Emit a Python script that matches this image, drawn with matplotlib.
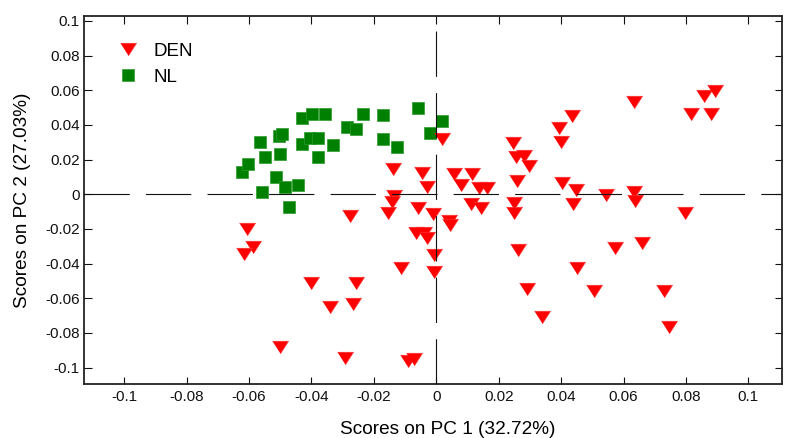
import matplotlib
matplotlib.use("Agg")
import matplotlib.pyplot as plt
from matplotlib.lines import Line2D

plt.rcParams['font.family'] = ['Liberation Sans', 'DejaVu Sans']

# ---- data ----
den_x = [0.0017, -0.0140, -0.0047, -0.0031, 0.0058, 0.0115, 0.0079, 0.0138, 0.0163,
         -0.0136, -0.0142, -0.0154, -0.0058, -0.0012, 0.0042, 0.0044, 0.0110, 0.0142,
         -0.0065, -0.0039, -0.0031, -0.0008, -0.0114, -0.0006, -0.0608, -0.0587, -0.0616,
         -0.0277, -0.0402, -0.0257, -0.0341, -0.0266, -0.0501, -0.0293, -0.0090, -0.0071,
         0.0247, 0.0254, 0.0282, 0.0298, 0.0258, 0.0394, 0.0401, 0.0436, 0.0404, 0.0449,
         0.0544, 0.0634, 0.0633, 0.0638, 0.0817, 0.0857, 0.0892, 0.0880, 0.0796, 0.0250,
         0.0250, 0.0439, 0.0263, 0.0573, 0.0658, 0.0452, 0.0292, 0.0506, 0.0728, 0.0340,
         0.0746]
den_y = [0.0317, 0.0144, 0.0124, 0.0043, 0.0114, 0.0118, 0.0053, 0.0034, 0.0036,
         -0.0010, -0.0045, -0.0110, -0.0077, -0.0116, -0.0152, -0.0178, -0.0059, -0.0081,
         -0.0226, -0.0226, -0.0250, -0.0351, -0.0423, -0.0449, -0.0202, -0.0306, -0.0347,
         -0.0123, -0.0514, -0.0514, -0.0652, -0.0633, -0.0880, -0.0947, -0.0960, -0.0949,
         0.0298, 0.0215, 0.0222, 0.0163, 0.0076, 0.0380, 0.0304, 0.0451, 0.0065, 0.0024,
         -0.0005, 0.0530, 0.0014, -0.0041, 0.0461, 0.0568, 0.0597, 0.0461, -0.0107, -0.0052,
         -0.0107, -0.0059, -0.0320, -0.0312, -0.0282, -0.0424, -0.0549, -0.0557, -0.0557, -0.0710,
         -0.0764]

nl_x = [-0.0623, -0.0604, -0.0565, -0.0549, -0.0560, -0.0514, -0.0485, -0.0501, -0.0504,
        -0.0496, -0.0472, -0.0444, -0.0431, -0.0431, -0.0399, -0.0405, -0.0378, -0.0380,
        -0.0358, -0.0332, -0.0286, -0.0257, -0.0236, -0.0170, -0.0171, -0.0127, -0.0058,
        -0.0021, 0.0019]
nl_y = [0.0126, 0.0174, 0.0299, 0.0215, 0.0011, 0.0099, 0.0040, 0.0230, 0.0336,
        0.0346, -0.0074, 0.0051, 0.0440, 0.0290, 0.0461, 0.0326, 0.0324, 0.0215,
        0.0461, 0.0284, 0.0388, 0.0374, 0.0461, 0.0455, 0.0317, 0.0272, 0.0496,
        0.0351, 0.0421]

series_labels = ["DEN", "NL"]
tick_vals = [-0.1, -0.08, -0.06, -0.04, -0.02, 0, 0.02, 0.04, 0.06, 0.08, 0.1]
tick_labels = ["-0.1", "-0.08", "-0.06", "-0.04", "-0.02", "0", "0.02", "0.04", "0.06", "0.08", "0.1"]
x_label = "Scores on PC 1 (32.72%)"
y_label = "Scores on PC 2 (27.03%)"

# ---- figure ----
fig = plt.figure(figsize=(7.85, 4.38), dpi=100)
ax = fig.add_axes([0.107, 0.1233, 0.8889, 0.8409])

tri = [(-1, 0.78), (1, 0.78), (0, -0.78)]

ax.plot(nl_x, nl_y, linestyle='none', marker='s', markersize=8.2,
        markerfacecolor='#008000', markeredgecolor='#2a9a2a', markeredgewidth=0.5, zorder=2)
ax.plot(den_x, den_y, linestyle='none', marker=tri, markersize=11.5,
        markerfacecolor='#ff0000', markeredgecolor='#ff3333', markeredgewidth=0.5, zorder=3)

ax.axhline(0, color='#111111', lw=0.8, dashes=(32.6 / 0.8, 11.7 / 0.8), zorder=4)
ax.axvline(0, color='#111111', lw=0.8, dashes=(32.6 / 0.8, 11.7 / 0.8), zorder=4)

ax.set_xlim(-0.1129, 0.1107)
ax.set_ylim(-0.1095, 0.1030)
ax.set_xticks(tick_vals)
ax.set_xticklabels(tick_labels)
ax.set_yticks(tick_vals)
ax.set_yticklabels(tick_labels)

ax.tick_params(axis='both', direction='in', length=5.4, width=0.8, labelsize=11,
               top=True, right=True, colors='#111111')
ax.tick_params(axis='x', pad=4.5)
ax.tick_params(axis='y', pad=3)
for s in ax.spines.values():
    s.set_linewidth(1.3)
    s.set_color('#222222')

ax.set_xlabel(x_label, fontsize=13.7)
ax.set_ylabel(y_label, fontsize=13.7)
ax.xaxis.set_label_coords(0.5217, -0.1005)
ax.yaxis.set_label_coords(-0.076, 0.5)

handles = [
    Line2D([], [], linestyle='none', marker=tri, markersize=11.5,
           markerfacecolor='#ff0000', markeredgecolor='#ff3333', markeredgewidth=0.5),
    Line2D([], [], linestyle='none', marker='s', markersize=8.2,
           markerfacecolor='#008000', markeredgecolor='#2a9a2a', markeredgewidth=0.5),
]
ax.legend(handles, series_labels, loc='upper left', bbox_to_anchor=(0.050, 0.926),
          frameon=False, fontsize=13.5, handlelength=1.0, handletextpad=0.85,
          labelspacing=0.45, borderpad=0, borderaxespad=0)

fig.savefig("out.png", dpi=100)
